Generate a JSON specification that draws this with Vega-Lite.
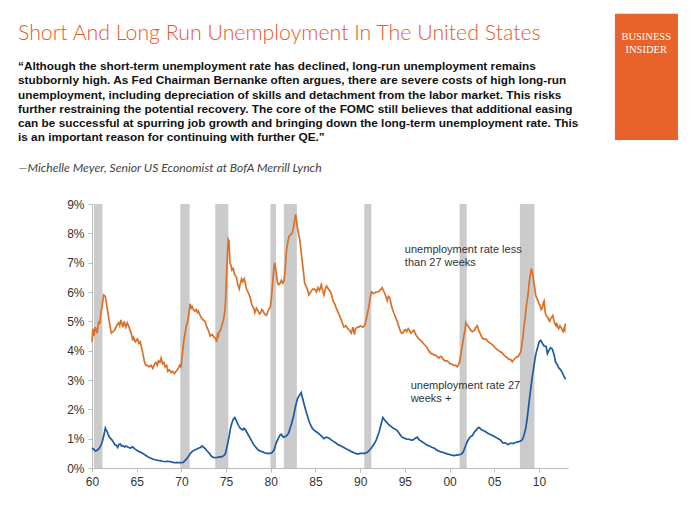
{
  "$schema": "https://vega.github.io/schema/vega-lite/v6.json",
  "width": 476,
  "height": 264,
  "autosize": {"type": "none"},
  "padding": {"left": 92, "top": 204, "right": 132, "bottom": 57},
  "background": "white",
  "config": {
    "view": {"stroke": null},
    "font": "Liberation Sans",
    "axis": {"grid": false, "domainColor": "#bdbdbd", "tickColor": "#bdbdbd", "labelColor": "#333333", "labelFont": "Liberation Sans", "labelFontSize": 12, "tickSize": 4, "labelOverlap": false},
    "axisY": {
      "values": [0, 1, 2, 3, 4, 5, 6, 7, 8, 9],
      "labelExpr": "datum.value + '%'",
      "labelPadding": 4,
      "titleAngle": 0,
      "titleAlign": "left",
      "titleBaseline": "middle",
      "titleX": -74,
      "titleY": -37,
      "titleFont": "Lato",
      "titleFontStyle": "italic",
      "titleFontWeight": "normal",
      "titleFontSize": 12.2,
      "titleColor": "#444444"
    }
  },
  "title": {
    "text": "Short And Long Run Unemployment In The United States",
    "subtitle": [
      "“Although the short-term unemployment rate has declined, long-run unemployment remains",
      "stubbornly high. As Fed Chairman Bernanke often argues, there are severe costs of high long-run",
      "unemployment, including depreciation of skills and detachment from the labor market. This risks",
      "further restraining the potential recovery. The core of the FOMC still believes that additional easing",
      "can be successful at spurring job growth and bringing down the long-term unemployment rate. This",
      "is an important reason for continuing with further QE.”"
    ],
    "anchor": "start",
    "frame": "group",
    "dx": -74,
    "offset": -130,
    "font": "Lato",
    "fontSize": 21.3,
    "fontWeight": 300,
    "color": "#e8582a",
    "subtitleFont": "Liberation Sans",
    "subtitleFontSize": 11.8,
    "subtitleFontWeight": "bold",
    "subtitleColor": "#111111",
    "subtitleLineHeight": 14.1,
    "subtitlePadding": 17
  },
  "datasets": {
    "recessions": [
      {"start": 1960.21, "end": 1961.17},
      {"start": 1969.87, "end": 1970.92},
      {"start": 1973.79, "end": 1975.25},
      {"start": 1979.96, "end": 1980.58},
      {"start": 1981.46, "end": 1982.92},
      {"start": 1990.46, "end": 1991.25},
      {"start": 2001.12, "end": 2001.92},
      {"start": 2007.87, "end": 2009.5}
    ],
    "labels": [
      {"label": "unemployment rate less\nthan 27 weeks", "year": 1995.0, "rate": 7.63},
      {"label": "unemployment rate 27\nweeks +", "year": 1995.65, "rate": 3.0}
    ],
    "series": [
      {"series": "short", "year": 1960.0, "rate": 4.3},
      {"series": "short", "year": 1960.1, "rate": 4.75},
      {"series": "short", "year": 1960.19, "rate": 4.5},
      {"series": "short", "year": 1960.37, "rate": 4.8},
      {"series": "short", "year": 1960.56, "rate": 4.6},
      {"series": "short", "year": 1960.75, "rate": 5.0},
      {"series": "short", "year": 1960.86, "rate": 4.9},
      {"series": "short", "year": 1961.0, "rate": 5.3},
      {"series": "short", "year": 1961.12, "rate": 5.5},
      {"series": "short", "year": 1961.3, "rate": 5.9},
      {"series": "short", "year": 1961.49, "rate": 5.85},
      {"series": "short", "year": 1961.67, "rate": 5.5},
      {"series": "short", "year": 1961.93, "rate": 5.0},
      {"series": "short", "year": 1962.16, "rate": 4.6},
      {"series": "short", "year": 1962.35, "rate": 4.65},
      {"series": "short", "year": 1962.53, "rate": 4.7},
      {"series": "short", "year": 1962.75, "rate": 4.85},
      {"series": "short", "year": 1962.97, "rate": 4.95},
      {"series": "short", "year": 1963.1, "rate": 4.85},
      {"series": "short", "year": 1963.23, "rate": 5.05},
      {"series": "short", "year": 1963.46, "rate": 4.8},
      {"series": "short", "year": 1963.6, "rate": 5.0},
      {"series": "short", "year": 1963.79, "rate": 4.8},
      {"series": "short", "year": 1963.95, "rate": 4.95},
      {"series": "short", "year": 1964.09, "rate": 4.85},
      {"series": "short", "year": 1964.25, "rate": 4.7},
      {"series": "short", "year": 1964.39, "rate": 4.6},
      {"series": "short", "year": 1964.55, "rate": 4.35},
      {"series": "short", "year": 1964.65, "rate": 4.45},
      {"series": "short", "year": 1964.85, "rate": 4.3},
      {"series": "short", "year": 1965.09, "rate": 4.4},
      {"series": "short", "year": 1965.25, "rate": 4.25},
      {"series": "short", "year": 1965.39, "rate": 4.3},
      {"series": "short", "year": 1965.55, "rate": 4.1},
      {"series": "short", "year": 1965.69, "rate": 3.9},
      {"series": "short", "year": 1965.85, "rate": 3.65},
      {"series": "short", "year": 1966.02, "rate": 3.5},
      {"series": "short", "year": 1966.2, "rate": 3.5},
      {"series": "short", "year": 1966.39, "rate": 3.45},
      {"series": "short", "year": 1966.6, "rate": 3.5},
      {"series": "short", "year": 1966.8, "rate": 3.4},
      {"series": "short", "year": 1967.0, "rate": 3.55},
      {"series": "short", "year": 1967.14, "rate": 3.6},
      {"series": "short", "year": 1967.3, "rate": 3.5},
      {"series": "short", "year": 1967.43, "rate": 3.65},
      {"series": "short", "year": 1967.6, "rate": 3.6},
      {"series": "short", "year": 1967.73, "rate": 3.75},
      {"series": "short", "year": 1967.9, "rate": 3.55},
      {"series": "short", "year": 1968.05, "rate": 3.6},
      {"series": "short", "year": 1968.18, "rate": 3.45},
      {"series": "short", "year": 1968.35, "rate": 3.5},
      {"series": "short", "year": 1968.48, "rate": 3.3},
      {"series": "short", "year": 1968.65, "rate": 3.35},
      {"series": "short", "year": 1968.85, "rate": 3.25},
      {"series": "short", "year": 1969.0, "rate": 3.3},
      {"series": "short", "year": 1969.22, "rate": 3.22},
      {"series": "short", "year": 1969.4, "rate": 3.3},
      {"series": "short", "year": 1969.59, "rate": 3.35},
      {"series": "short", "year": 1969.8, "rate": 3.5},
      {"series": "short", "year": 1969.96, "rate": 3.45},
      {"series": "short", "year": 1970.05, "rate": 3.7},
      {"series": "short", "year": 1970.15, "rate": 4.0},
      {"series": "short", "year": 1970.3, "rate": 4.4},
      {"series": "short", "year": 1970.41, "rate": 4.6},
      {"series": "short", "year": 1970.55, "rate": 4.85},
      {"series": "short", "year": 1970.71, "rate": 5.0},
      {"series": "short", "year": 1970.85, "rate": 5.3},
      {"series": "short", "year": 1970.97, "rate": 5.6},
      {"series": "short", "year": 1971.1, "rate": 5.45},
      {"series": "short", "year": 1971.2, "rate": 5.5},
      {"series": "short", "year": 1971.34, "rate": 5.4},
      {"series": "short", "year": 1971.5, "rate": 5.35},
      {"series": "short", "year": 1971.64, "rate": 5.4},
      {"series": "short", "year": 1971.8, "rate": 5.3},
      {"series": "short", "year": 1971.9, "rate": 5.35},
      {"series": "short", "year": 1972.1, "rate": 5.2},
      {"series": "short", "year": 1972.27, "rate": 5.1},
      {"series": "short", "year": 1972.45, "rate": 5.05},
      {"series": "short", "year": 1972.64, "rate": 5.0},
      {"series": "short", "year": 1972.85, "rate": 4.8},
      {"series": "short", "year": 1973.01, "rate": 4.7},
      {"series": "short", "year": 1973.12, "rate": 4.6},
      {"series": "short", "year": 1973.23, "rate": 4.5},
      {"series": "short", "year": 1973.45, "rate": 4.55},
      {"series": "short", "year": 1973.68, "rate": 4.45},
      {"series": "short", "year": 1973.85, "rate": 4.4},
      {"series": "short", "year": 1973.94, "rate": 4.3},
      {"series": "short", "year": 1974.05, "rate": 4.55},
      {"series": "short", "year": 1974.13, "rate": 4.5},
      {"series": "short", "year": 1974.25, "rate": 4.65},
      {"series": "short", "year": 1974.39, "rate": 4.7},
      {"series": "short", "year": 1974.55, "rate": 4.9},
      {"series": "short", "year": 1974.68, "rate": 5.0},
      {"series": "short", "year": 1974.8, "rate": 5.2},
      {"series": "short", "year": 1974.93, "rate": 5.6},
      {"series": "short", "year": 1975.06, "rate": 6.6},
      {"series": "short", "year": 1975.15, "rate": 7.3},
      {"series": "short", "year": 1975.24, "rate": 7.8},
      {"series": "short", "year": 1975.32, "rate": 7.75},
      {"series": "short", "year": 1975.43, "rate": 7.0},
      {"series": "short", "year": 1975.55, "rate": 6.9},
      {"series": "short", "year": 1975.65, "rate": 6.75},
      {"series": "short", "year": 1975.8, "rate": 6.8},
      {"series": "short", "year": 1975.95, "rate": 6.6},
      {"series": "short", "year": 1976.17, "rate": 6.5},
      {"series": "short", "year": 1976.3, "rate": 6.25},
      {"series": "short", "year": 1976.47, "rate": 6.1},
      {"series": "short", "year": 1976.6, "rate": 6.3},
      {"series": "short", "year": 1976.73, "rate": 6.45},
      {"series": "short", "year": 1976.85, "rate": 6.35},
      {"series": "short", "year": 1977.03, "rate": 6.45},
      {"series": "short", "year": 1977.15, "rate": 6.3},
      {"series": "short", "year": 1977.29, "rate": 6.1},
      {"series": "short", "year": 1977.45, "rate": 6.0},
      {"series": "short", "year": 1977.66, "rate": 5.85},
      {"series": "short", "year": 1977.8, "rate": 5.65},
      {"series": "short", "year": 1977.96, "rate": 5.5},
      {"series": "short", "year": 1978.1, "rate": 5.45},
      {"series": "short", "year": 1978.22, "rate": 5.3},
      {"series": "short", "year": 1978.4, "rate": 5.45},
      {"series": "short", "year": 1978.59, "rate": 5.35},
      {"series": "short", "year": 1978.75, "rate": 5.25},
      {"series": "short", "year": 1978.88, "rate": 5.3},
      {"series": "short", "year": 1979.0, "rate": 5.4},
      {"series": "short", "year": 1979.14, "rate": 5.35},
      {"series": "short", "year": 1979.3, "rate": 5.25},
      {"series": "short", "year": 1979.52, "rate": 5.2},
      {"series": "short", "year": 1979.7, "rate": 5.35},
      {"series": "short", "year": 1979.85, "rate": 5.45},
      {"series": "short", "year": 1979.96, "rate": 5.5},
      {"series": "short", "year": 1980.1, "rate": 5.9},
      {"series": "short", "year": 1980.26, "rate": 6.5},
      {"series": "short", "year": 1980.38, "rate": 6.9},
      {"series": "short", "year": 1980.45, "rate": 7.0},
      {"series": "short", "year": 1980.55, "rate": 6.8},
      {"series": "short", "year": 1980.63, "rate": 6.6},
      {"series": "short", "year": 1980.75, "rate": 6.3},
      {"series": "short", "year": 1980.89, "rate": 6.25},
      {"series": "short", "year": 1981.05, "rate": 6.3},
      {"series": "short", "year": 1981.19, "rate": 6.4},
      {"series": "short", "year": 1981.35, "rate": 6.3},
      {"series": "short", "year": 1981.49, "rate": 6.4},
      {"series": "short", "year": 1981.62, "rate": 6.8},
      {"series": "short", "year": 1981.75, "rate": 7.4},
      {"series": "short", "year": 1981.9, "rate": 7.7},
      {"series": "short", "year": 1982.05, "rate": 7.9},
      {"series": "short", "year": 1982.2, "rate": 7.95},
      {"series": "short", "year": 1982.38, "rate": 8.0},
      {"series": "short", "year": 1982.5, "rate": 8.15},
      {"series": "short", "year": 1982.6, "rate": 8.3},
      {"series": "short", "year": 1982.7, "rate": 8.5},
      {"series": "short", "year": 1982.78, "rate": 8.65},
      {"series": "short", "year": 1982.9, "rate": 8.4},
      {"series": "short", "year": 1982.97, "rate": 8.2},
      {"series": "short", "year": 1983.1, "rate": 8.0},
      {"series": "short", "year": 1983.23, "rate": 7.8},
      {"series": "short", "year": 1983.35, "rate": 7.5},
      {"series": "short", "year": 1983.53, "rate": 7.0},
      {"series": "short", "year": 1983.65, "rate": 6.7},
      {"series": "short", "year": 1983.79, "rate": 6.3},
      {"series": "short", "year": 1983.95, "rate": 6.2},
      {"series": "short", "year": 1984.09, "rate": 6.1},
      {"series": "short", "year": 1984.25, "rate": 5.9},
      {"series": "short", "year": 1984.46, "rate": 6.0},
      {"series": "short", "year": 1984.7, "rate": 6.1},
      {"series": "short", "year": 1984.91, "rate": 6.1},
      {"series": "short", "year": 1985.1, "rate": 6.0},
      {"series": "short", "year": 1985.28, "rate": 6.15},
      {"series": "short", "year": 1985.45, "rate": 6.05},
      {"series": "short", "year": 1985.65, "rate": 6.25},
      {"series": "short", "year": 1985.8, "rate": 6.05},
      {"series": "short", "year": 1985.95, "rate": 5.9},
      {"series": "short", "year": 1986.1, "rate": 6.1},
      {"series": "short", "year": 1986.25, "rate": 6.2},
      {"series": "short", "year": 1986.45, "rate": 6.1},
      {"series": "short", "year": 1986.69, "rate": 6.0},
      {"series": "short", "year": 1986.85, "rate": 5.85},
      {"series": "short", "year": 1986.95, "rate": 5.7},
      {"series": "short", "year": 1987.15, "rate": 5.6},
      {"series": "short", "year": 1987.32, "rate": 5.45},
      {"series": "short", "year": 1987.55, "rate": 5.3},
      {"series": "short", "year": 1987.81, "rate": 5.1},
      {"series": "short", "year": 1988.0, "rate": 4.95},
      {"series": "short", "year": 1988.18, "rate": 4.8},
      {"series": "short", "year": 1988.4, "rate": 4.85},
      {"series": "short", "year": 1988.62, "rate": 4.75},
      {"series": "short", "year": 1988.8, "rate": 4.7},
      {"series": "short", "year": 1989.0, "rate": 4.6},
      {"series": "short", "year": 1989.2, "rate": 4.8},
      {"series": "short", "year": 1989.35, "rate": 4.55},
      {"series": "short", "year": 1989.48, "rate": 4.75},
      {"series": "short", "year": 1989.7, "rate": 4.8},
      {"series": "short", "year": 1989.85, "rate": 4.8},
      {"series": "short", "year": 1990.0, "rate": 4.85},
      {"series": "short", "year": 1990.3, "rate": 4.8},
      {"series": "short", "year": 1990.49, "rate": 4.85},
      {"series": "short", "year": 1990.7, "rate": 5.1},
      {"series": "short", "year": 1990.97, "rate": 5.5},
      {"series": "short", "year": 1991.15, "rate": 5.85},
      {"series": "short", "year": 1991.27, "rate": 6.0},
      {"series": "short", "year": 1991.5, "rate": 5.95},
      {"series": "short", "year": 1991.79, "rate": 6.0},
      {"series": "short", "year": 1992.0, "rate": 6.0},
      {"series": "short", "year": 1992.2, "rate": 6.05},
      {"series": "short", "year": 1992.46, "rate": 6.15},
      {"series": "short", "year": 1992.6, "rate": 6.05},
      {"series": "short", "year": 1992.76, "rate": 5.95},
      {"series": "short", "year": 1993.02, "rate": 5.7},
      {"series": "short", "year": 1993.15, "rate": 5.85},
      {"series": "short", "year": 1993.32, "rate": 5.8},
      {"series": "short", "year": 1993.45, "rate": 5.6},
      {"series": "short", "year": 1993.58, "rate": 5.45},
      {"series": "short", "year": 1993.75, "rate": 5.3},
      {"series": "short", "year": 1993.88, "rate": 5.2},
      {"series": "short", "year": 1994.14, "rate": 5.0},
      {"series": "short", "year": 1994.3, "rate": 4.85},
      {"series": "short", "year": 1994.51, "rate": 4.65},
      {"series": "short", "year": 1994.65, "rate": 4.6},
      {"series": "short", "year": 1994.78, "rate": 4.6},
      {"series": "short", "year": 1994.95, "rate": 4.7},
      {"series": "short", "year": 1995.07, "rate": 4.72},
      {"series": "short", "year": 1995.2, "rate": 4.65},
      {"series": "short", "year": 1995.37, "rate": 4.75},
      {"series": "short", "year": 1995.5, "rate": 4.7},
      {"series": "short", "year": 1995.67, "rate": 4.6},
      {"series": "short", "year": 1995.85, "rate": 4.65},
      {"series": "short", "year": 1996.01, "rate": 4.7},
      {"series": "short", "year": 1996.15, "rate": 4.6},
      {"series": "short", "year": 1996.31, "rate": 4.5},
      {"series": "short", "year": 1996.45, "rate": 4.45},
      {"series": "short", "year": 1996.57, "rate": 4.4},
      {"series": "short", "year": 1996.75, "rate": 4.35},
      {"series": "short", "year": 1996.94, "rate": 4.3},
      {"series": "short", "year": 1997.05, "rate": 4.25},
      {"series": "short", "year": 1997.2, "rate": 4.2},
      {"series": "short", "year": 1997.35, "rate": 4.15},
      {"series": "short", "year": 1997.5, "rate": 4.1},
      {"series": "short", "year": 1997.65, "rate": 4.0},
      {"series": "short", "year": 1997.8, "rate": 3.95},
      {"series": "short", "year": 1997.95, "rate": 3.9},
      {"series": "short", "year": 1998.06, "rate": 3.9},
      {"series": "short", "year": 1998.25, "rate": 3.85},
      {"series": "short", "year": 1998.43, "rate": 3.85},
      {"series": "short", "year": 1998.6, "rate": 3.8},
      {"series": "short", "year": 1998.81, "rate": 3.75},
      {"series": "short", "year": 1998.95, "rate": 3.8},
      {"series": "short", "year": 1999.1, "rate": 3.8},
      {"series": "short", "year": 1999.3, "rate": 3.7},
      {"series": "short", "year": 1999.48, "rate": 3.65},
      {"series": "short", "year": 1999.7, "rate": 3.65},
      {"series": "short", "year": 1999.93, "rate": 3.6},
      {"series": "short", "year": 2000.05, "rate": 3.55},
      {"series": "short", "year": 2000.22, "rate": 3.55},
      {"series": "short", "year": 2000.45, "rate": 3.5},
      {"series": "short", "year": 2000.67, "rate": 3.5},
      {"series": "short", "year": 2000.85, "rate": 3.45},
      {"series": "short", "year": 2000.97, "rate": 3.5},
      {"series": "short", "year": 2001.1, "rate": 3.6},
      {"series": "short", "year": 2001.23, "rate": 3.8},
      {"series": "short", "year": 2001.35, "rate": 4.05},
      {"series": "short", "year": 2001.49, "rate": 4.3},
      {"series": "short", "year": 2001.6, "rate": 4.5},
      {"series": "short", "year": 2001.72, "rate": 4.7},
      {"series": "short", "year": 2001.83, "rate": 4.95},
      {"series": "short", "year": 2001.9, "rate": 4.9},
      {"series": "short", "year": 2002.05, "rate": 4.85},
      {"series": "short", "year": 2002.16, "rate": 4.8},
      {"series": "short", "year": 2002.35, "rate": 4.7},
      {"series": "short", "year": 2002.54, "rate": 4.65},
      {"series": "short", "year": 2002.8, "rate": 4.7},
      {"series": "short", "year": 2002.95, "rate": 4.8},
      {"series": "short", "year": 2003.1, "rate": 4.85},
      {"series": "short", "year": 2003.25, "rate": 4.7},
      {"series": "short", "year": 2003.4, "rate": 4.6},
      {"series": "short", "year": 2003.55, "rate": 4.5},
      {"series": "short", "year": 2003.73, "rate": 4.4},
      {"series": "short", "year": 2003.9, "rate": 4.4},
      {"series": "short", "year": 2004.03, "rate": 4.4},
      {"series": "short", "year": 2004.2, "rate": 4.35},
      {"series": "short", "year": 2004.33, "rate": 4.3},
      {"series": "short", "year": 2004.59, "rate": 4.25},
      {"series": "short", "year": 2004.8, "rate": 4.2},
      {"series": "short", "year": 2004.96, "rate": 4.15},
      {"series": "short", "year": 2005.1, "rate": 4.1},
      {"series": "short", "year": 2005.26, "rate": 4.05},
      {"series": "short", "year": 2005.52, "rate": 4.0},
      {"series": "short", "year": 2005.7, "rate": 3.95},
      {"series": "short", "year": 2005.82, "rate": 3.95},
      {"series": "short", "year": 2006.08, "rate": 3.85},
      {"series": "short", "year": 2006.3, "rate": 3.8},
      {"series": "short", "year": 2006.46, "rate": 3.75},
      {"series": "short", "year": 2006.65, "rate": 3.7},
      {"series": "short", "year": 2006.83, "rate": 3.7},
      {"series": "short", "year": 2007.01, "rate": 3.62},
      {"series": "short", "year": 2007.2, "rate": 3.7},
      {"series": "short", "year": 2007.39, "rate": 3.75},
      {"series": "short", "year": 2007.55, "rate": 3.8},
      {"series": "short", "year": 2007.69, "rate": 3.8},
      {"series": "short", "year": 2007.85, "rate": 3.9},
      {"series": "short", "year": 2007.95, "rate": 3.95},
      {"series": "short", "year": 2008.05, "rate": 4.1},
      {"series": "short", "year": 2008.13, "rate": 4.3},
      {"series": "short", "year": 2008.22, "rate": 4.5},
      {"series": "short", "year": 2008.32, "rate": 4.8},
      {"series": "short", "year": 2008.45, "rate": 5.1},
      {"series": "short", "year": 2008.58, "rate": 5.5},
      {"series": "short", "year": 2008.7, "rate": 5.75},
      {"series": "short", "year": 2008.81, "rate": 6.0},
      {"series": "short", "year": 2008.9, "rate": 6.3},
      {"series": "short", "year": 2008.99, "rate": 6.5},
      {"series": "short", "year": 2009.1, "rate": 6.7},
      {"series": "short", "year": 2009.18, "rate": 6.8},
      {"series": "short", "year": 2009.3, "rate": 6.6},
      {"series": "short", "year": 2009.44, "rate": 6.3},
      {"series": "short", "year": 2009.55, "rate": 6.1},
      {"series": "short", "year": 2009.63, "rate": 5.9},
      {"series": "short", "year": 2009.75, "rate": 5.8},
      {"series": "short", "year": 2009.89, "rate": 5.7},
      {"series": "short", "year": 2010.0, "rate": 5.6},
      {"series": "short", "year": 2010.11, "rate": 5.55},
      {"series": "short", "year": 2010.25, "rate": 5.4},
      {"series": "short", "year": 2010.37, "rate": 5.45},
      {"series": "short", "year": 2010.5, "rate": 5.65},
      {"series": "short", "year": 2010.58, "rate": 5.7},
      {"series": "short", "year": 2010.7, "rate": 5.3},
      {"series": "short", "year": 2010.82, "rate": 5.2},
      {"series": "short", "year": 2010.95, "rate": 5.15},
      {"series": "short", "year": 2011.1, "rate": 5.05},
      {"series": "short", "year": 2011.2, "rate": 5.0},
      {"series": "short", "year": 2011.31, "rate": 5.1},
      {"series": "short", "year": 2011.45, "rate": 5.15},
      {"series": "short", "year": 2011.55, "rate": 5.2},
      {"series": "short", "year": 2011.7, "rate": 5.0},
      {"series": "short", "year": 2011.8, "rate": 4.9},
      {"series": "short", "year": 2011.9, "rate": 4.85},
      {"series": "short", "year": 2012.0, "rate": 4.95},
      {"series": "short", "year": 2012.1, "rate": 4.8},
      {"series": "short", "year": 2012.2, "rate": 4.75},
      {"series": "short", "year": 2012.35, "rate": 4.85},
      {"series": "short", "year": 2012.45, "rate": 4.8},
      {"series": "short", "year": 2012.6, "rate": 4.7},
      {"series": "short", "year": 2012.7, "rate": 4.65},
      {"series": "short", "year": 2012.8, "rate": 4.75},
      {"series": "short", "year": 2012.88, "rate": 4.7},
      {"series": "short", "year": 2012.95, "rate": 4.92},
      {"series": "long", "year": 1960.0, "rate": 0.68},
      {"series": "long", "year": 1960.15, "rate": 0.65},
      {"series": "long", "year": 1960.37, "rate": 0.58},
      {"series": "long", "year": 1960.55, "rate": 0.6},
      {"series": "long", "year": 1960.75, "rate": 0.65},
      {"series": "long", "year": 1960.9, "rate": 0.72},
      {"series": "long", "year": 1961.04, "rate": 0.8},
      {"series": "long", "year": 1961.2, "rate": 0.95},
      {"series": "long", "year": 1961.31, "rate": 1.1},
      {"series": "long", "year": 1961.42, "rate": 1.25},
      {"series": "long", "year": 1961.49, "rate": 1.36},
      {"series": "long", "year": 1961.58, "rate": 1.3},
      {"series": "long", "year": 1961.68, "rate": 1.25},
      {"series": "long", "year": 1961.8, "rate": 1.15},
      {"series": "long", "year": 1961.94, "rate": 1.05},
      {"series": "long", "year": 1962.1, "rate": 1.0},
      {"series": "long", "year": 1962.24, "rate": 0.95},
      {"series": "long", "year": 1962.4, "rate": 0.88},
      {"series": "long", "year": 1962.54, "rate": 0.8},
      {"series": "long", "year": 1962.7, "rate": 0.78},
      {"series": "long", "year": 1962.87, "rate": 0.7},
      {"series": "long", "year": 1963.0, "rate": 0.8},
      {"series": "long", "year": 1963.17, "rate": 0.82},
      {"series": "long", "year": 1963.3, "rate": 0.75},
      {"series": "long", "year": 1963.47, "rate": 0.76},
      {"series": "long", "year": 1963.65, "rate": 0.72},
      {"series": "long", "year": 1963.81, "rate": 0.75},
      {"series": "long", "year": 1963.95, "rate": 0.72},
      {"series": "long", "year": 1964.1, "rate": 0.7},
      {"series": "long", "year": 1964.3, "rate": 0.68},
      {"series": "long", "year": 1964.55, "rate": 0.72},
      {"series": "long", "year": 1964.75, "rate": 0.66},
      {"series": "long", "year": 1964.93, "rate": 0.62},
      {"series": "long", "year": 1965.15, "rate": 0.58},
      {"series": "long", "year": 1965.34, "rate": 0.55},
      {"series": "long", "year": 1965.55, "rate": 0.52},
      {"series": "long", "year": 1965.78, "rate": 0.48},
      {"series": "long", "year": 1965.95, "rate": 0.44},
      {"series": "long", "year": 1966.16, "rate": 0.4},
      {"series": "long", "year": 1966.4, "rate": 0.36},
      {"series": "long", "year": 1966.6, "rate": 0.33},
      {"series": "long", "year": 1966.85, "rate": 0.3},
      {"series": "long", "year": 1967.09, "rate": 0.28},
      {"series": "long", "year": 1967.35, "rate": 0.26},
      {"series": "long", "year": 1967.65, "rate": 0.25},
      {"series": "long", "year": 1967.9, "rate": 0.23},
      {"series": "long", "year": 1968.21, "rate": 0.22},
      {"series": "long", "year": 1968.45, "rate": 0.23},
      {"series": "long", "year": 1968.69, "rate": 0.22},
      {"series": "long", "year": 1968.95, "rate": 0.2},
      {"series": "long", "year": 1969.22, "rate": 0.18},
      {"series": "long", "year": 1969.45, "rate": 0.19},
      {"series": "long", "year": 1969.7, "rate": 0.18},
      {"series": "long", "year": 1969.95, "rate": 0.18},
      {"series": "long", "year": 1970.19, "rate": 0.19},
      {"series": "long", "year": 1970.4, "rate": 0.25},
      {"series": "long", "year": 1970.56, "rate": 0.3},
      {"series": "long", "year": 1970.8, "rate": 0.4},
      {"series": "long", "year": 1971.01, "rate": 0.5},
      {"series": "long", "year": 1971.2, "rate": 0.56},
      {"series": "long", "year": 1971.38, "rate": 0.6},
      {"series": "long", "year": 1971.55, "rate": 0.62},
      {"series": "long", "year": 1971.75, "rate": 0.65},
      {"series": "long", "year": 1971.95, "rate": 0.68},
      {"series": "long", "year": 1972.13, "rate": 0.7},
      {"series": "long", "year": 1972.31, "rate": 0.75},
      {"series": "long", "year": 1972.5, "rate": 0.7},
      {"series": "long", "year": 1972.69, "rate": 0.65},
      {"series": "long", "year": 1972.9, "rate": 0.57},
      {"series": "long", "year": 1973.13, "rate": 0.5},
      {"series": "long", "year": 1973.3, "rate": 0.42},
      {"series": "long", "year": 1973.43, "rate": 0.38},
      {"series": "long", "year": 1973.6, "rate": 0.36},
      {"series": "long", "year": 1973.81, "rate": 0.35},
      {"series": "long", "year": 1974.0, "rate": 0.36},
      {"series": "long", "year": 1974.25, "rate": 0.38},
      {"series": "long", "year": 1974.45, "rate": 0.38},
      {"series": "long", "year": 1974.63, "rate": 0.4},
      {"series": "long", "year": 1974.8, "rate": 0.44},
      {"series": "long", "year": 1974.93, "rate": 0.5},
      {"series": "long", "year": 1975.08, "rate": 0.7},
      {"series": "long", "year": 1975.22, "rate": 0.9},
      {"series": "long", "year": 1975.35, "rate": 1.1},
      {"series": "long", "year": 1975.49, "rate": 1.35},
      {"series": "long", "year": 1975.62, "rate": 1.5},
      {"series": "long", "year": 1975.78, "rate": 1.65},
      {"series": "long", "year": 1975.97, "rate": 1.72},
      {"series": "long", "year": 1976.1, "rate": 1.65},
      {"series": "long", "year": 1976.31, "rate": 1.5},
      {"series": "long", "year": 1976.45, "rate": 1.42},
      {"series": "long", "year": 1976.6, "rate": 1.35},
      {"series": "long", "year": 1976.75, "rate": 1.32},
      {"series": "long", "year": 1976.87, "rate": 1.3},
      {"series": "long", "year": 1977.0, "rate": 1.35},
      {"series": "long", "year": 1977.16, "rate": 1.3},
      {"series": "long", "year": 1977.35, "rate": 1.2},
      {"series": "long", "year": 1977.54, "rate": 1.1},
      {"series": "long", "year": 1977.72, "rate": 1.0},
      {"series": "long", "year": 1977.91, "rate": 0.9},
      {"series": "long", "year": 1978.05, "rate": 0.82},
      {"series": "long", "year": 1978.21, "rate": 0.75},
      {"series": "long", "year": 1978.45, "rate": 0.66},
      {"series": "long", "year": 1978.66, "rate": 0.6},
      {"series": "long", "year": 1978.9, "rate": 0.57},
      {"series": "long", "year": 1979.1, "rate": 0.55},
      {"series": "long", "year": 1979.3, "rate": 0.52},
      {"series": "long", "year": 1979.51, "rate": 0.5},
      {"series": "long", "year": 1979.75, "rate": 0.5},
      {"series": "long", "year": 1979.96, "rate": 0.5},
      {"series": "long", "year": 1980.15, "rate": 0.53},
      {"series": "long", "year": 1980.34, "rate": 0.6},
      {"series": "long", "year": 1980.48, "rate": 0.72},
      {"series": "long", "year": 1980.6, "rate": 0.85},
      {"series": "long", "year": 1980.75, "rate": 0.95},
      {"series": "long", "year": 1980.9, "rate": 1.05},
      {"series": "long", "year": 1981.05, "rate": 1.12},
      {"series": "long", "year": 1981.19, "rate": 1.15},
      {"series": "long", "year": 1981.32, "rate": 1.08},
      {"series": "long", "year": 1981.46, "rate": 1.05},
      {"series": "long", "year": 1981.6, "rate": 1.07},
      {"series": "long", "year": 1981.75, "rate": 1.1},
      {"series": "long", "year": 1981.9, "rate": 1.15},
      {"series": "long", "year": 1982.01, "rate": 1.2},
      {"series": "long", "year": 1982.15, "rate": 1.35},
      {"series": "long", "year": 1982.31, "rate": 1.5},
      {"series": "long", "year": 1982.45, "rate": 1.65},
      {"series": "long", "year": 1982.57, "rate": 1.8},
      {"series": "long", "year": 1982.7, "rate": 2.0},
      {"series": "long", "year": 1982.84, "rate": 2.2},
      {"series": "long", "year": 1982.98, "rate": 2.35},
      {"series": "long", "year": 1983.13, "rate": 2.45},
      {"series": "long", "year": 1983.27, "rate": 2.5},
      {"series": "long", "year": 1983.4, "rate": 2.57},
      {"series": "long", "year": 1983.5, "rate": 2.45},
      {"series": "long", "year": 1983.62, "rate": 2.3},
      {"series": "long", "year": 1983.75, "rate": 2.15},
      {"series": "long", "year": 1983.88, "rate": 2.0},
      {"series": "long", "year": 1984.03, "rate": 1.85},
      {"series": "long", "year": 1984.18, "rate": 1.7},
      {"series": "long", "year": 1984.33, "rate": 1.55},
      {"series": "long", "year": 1984.48, "rate": 1.45},
      {"series": "long", "year": 1984.65, "rate": 1.35},
      {"series": "long", "year": 1984.81, "rate": 1.3},
      {"series": "long", "year": 1985.0, "rate": 1.25},
      {"series": "long", "year": 1985.26, "rate": 1.2},
      {"series": "long", "year": 1985.45, "rate": 1.15},
      {"series": "long", "year": 1985.63, "rate": 1.1},
      {"series": "long", "year": 1985.8, "rate": 1.05},
      {"series": "long", "year": 1985.93, "rate": 1.0},
      {"series": "long", "year": 1986.08, "rate": 1.03},
      {"series": "long", "year": 1986.23, "rate": 1.05},
      {"series": "long", "year": 1986.4, "rate": 1.03},
      {"series": "long", "year": 1986.6, "rate": 1.0},
      {"series": "long", "year": 1986.8, "rate": 0.95},
      {"series": "long", "year": 1987.05, "rate": 0.9},
      {"series": "long", "year": 1987.25, "rate": 0.86},
      {"series": "long", "year": 1987.43, "rate": 0.82},
      {"series": "long", "year": 1987.65, "rate": 0.78},
      {"series": "long", "year": 1987.87, "rate": 0.75},
      {"series": "long", "year": 1988.05, "rate": 0.72},
      {"series": "long", "year": 1988.28, "rate": 0.68},
      {"series": "long", "year": 1988.45, "rate": 0.65},
      {"series": "long", "year": 1988.66, "rate": 0.62},
      {"series": "long", "year": 1988.9, "rate": 0.58},
      {"series": "long", "year": 1989.1, "rate": 0.55},
      {"series": "long", "year": 1989.3, "rate": 0.52},
      {"series": "long", "year": 1989.48, "rate": 0.5},
      {"series": "long", "year": 1989.65, "rate": 0.48},
      {"series": "long", "year": 1989.85, "rate": 0.48},
      {"series": "long", "year": 1990.0, "rate": 0.5},
      {"series": "long", "year": 1990.25, "rate": 0.5},
      {"series": "long", "year": 1990.52, "rate": 0.5},
      {"series": "long", "year": 1990.75, "rate": 0.53},
      {"series": "long", "year": 1990.97, "rate": 0.58},
      {"series": "long", "year": 1991.25, "rate": 0.68},
      {"series": "long", "year": 1991.53, "rate": 0.8},
      {"series": "long", "year": 1991.79, "rate": 0.95},
      {"series": "long", "year": 1991.95, "rate": 1.08},
      {"series": "long", "year": 1992.09, "rate": 1.2},
      {"series": "long", "year": 1992.25, "rate": 1.38},
      {"series": "long", "year": 1992.39, "rate": 1.55},
      {"series": "long", "year": 1992.54, "rate": 1.72},
      {"series": "long", "year": 1992.7, "rate": 1.65},
      {"series": "long", "year": 1992.84, "rate": 1.6},
      {"series": "long", "year": 1993.0, "rate": 1.55},
      {"series": "long", "year": 1993.13, "rate": 1.5},
      {"series": "long", "year": 1993.3, "rate": 1.45},
      {"series": "long", "year": 1993.47, "rate": 1.42},
      {"series": "long", "year": 1993.6, "rate": 1.38},
      {"series": "long", "year": 1993.77, "rate": 1.35},
      {"series": "long", "year": 1994.07, "rate": 1.3},
      {"series": "long", "year": 1994.2, "rate": 1.25},
      {"series": "long", "year": 1994.33, "rate": 1.2},
      {"series": "long", "year": 1994.5, "rate": 1.12},
      {"series": "long", "year": 1994.7, "rate": 1.05},
      {"series": "long", "year": 1994.9, "rate": 1.02},
      {"series": "long", "year": 1995.07, "rate": 1.0},
      {"series": "long", "year": 1995.25, "rate": 0.98},
      {"series": "long", "year": 1995.45, "rate": 0.98},
      {"series": "long", "year": 1995.65, "rate": 0.96},
      {"series": "long", "year": 1995.82, "rate": 0.95},
      {"series": "long", "year": 1996.0, "rate": 0.97},
      {"series": "long", "year": 1996.12, "rate": 1.0},
      {"series": "long", "year": 1996.25, "rate": 1.03},
      {"series": "long", "year": 1996.38, "rate": 1.05},
      {"series": "long", "year": 1996.5, "rate": 1.0},
      {"series": "long", "year": 1996.64, "rate": 0.95},
      {"series": "long", "year": 1996.8, "rate": 0.92},
      {"series": "long", "year": 1997.01, "rate": 0.88},
      {"series": "long", "year": 1997.2, "rate": 0.84},
      {"series": "long", "year": 1997.39, "rate": 0.8},
      {"series": "long", "year": 1997.56, "rate": 0.77},
      {"series": "long", "year": 1997.76, "rate": 0.75},
      {"series": "long", "year": 1998.0, "rate": 0.71},
      {"series": "long", "year": 1998.25, "rate": 0.68},
      {"series": "long", "year": 1998.45, "rate": 0.64},
      {"series": "long", "year": 1998.62, "rate": 0.6},
      {"series": "long", "year": 1998.8, "rate": 0.58},
      {"series": "long", "year": 1998.99, "rate": 0.55},
      {"series": "long", "year": 1999.2, "rate": 0.54},
      {"series": "long", "year": 1999.37, "rate": 0.52},
      {"series": "long", "year": 1999.55, "rate": 0.5},
      {"series": "long", "year": 1999.74, "rate": 0.48},
      {"series": "long", "year": 1999.9, "rate": 0.47},
      {"series": "long", "year": 2000.11, "rate": 0.45},
      {"series": "long", "year": 2000.3, "rate": 0.44},
      {"series": "long", "year": 2000.49, "rate": 0.42},
      {"series": "long", "year": 2000.65, "rate": 0.43},
      {"series": "long", "year": 2000.78, "rate": 0.45},
      {"series": "long", "year": 2000.9, "rate": 0.43},
      {"series": "long", "year": 2001.04, "rate": 0.45},
      {"series": "long", "year": 2001.25, "rate": 0.47},
      {"series": "long", "year": 2001.42, "rate": 0.5},
      {"series": "long", "year": 2001.58, "rate": 0.58},
      {"series": "long", "year": 2001.72, "rate": 0.7},
      {"series": "long", "year": 2001.85, "rate": 0.8},
      {"series": "long", "year": 2001.98, "rate": 0.9},
      {"series": "long", "year": 2002.13, "rate": 0.98},
      {"series": "long", "year": 2002.28, "rate": 1.05},
      {"series": "long", "year": 2002.4, "rate": 1.08},
      {"series": "long", "year": 2002.54, "rate": 1.1},
      {"series": "long", "year": 2002.7, "rate": 1.18},
      {"series": "long", "year": 2002.84, "rate": 1.25},
      {"series": "long", "year": 2003.0, "rate": 1.3},
      {"series": "long", "year": 2003.13, "rate": 1.35},
      {"series": "long", "year": 2003.25, "rate": 1.38},
      {"series": "long", "year": 2003.36, "rate": 1.37},
      {"series": "long", "year": 2003.47, "rate": 1.33},
      {"series": "long", "year": 2003.58, "rate": 1.3},
      {"series": "long", "year": 2003.75, "rate": 1.28},
      {"series": "long", "year": 2003.96, "rate": 1.25},
      {"series": "long", "year": 2004.1, "rate": 1.22},
      {"series": "long", "year": 2004.22, "rate": 1.2},
      {"series": "long", "year": 2004.35, "rate": 1.17},
      {"series": "long", "year": 2004.51, "rate": 1.15},
      {"series": "long", "year": 2004.7, "rate": 1.12},
      {"series": "long", "year": 2004.85, "rate": 1.1},
      {"series": "long", "year": 2005.0, "rate": 1.08},
      {"series": "long", "year": 2005.15, "rate": 1.05},
      {"series": "long", "year": 2005.3, "rate": 1.02},
      {"series": "long", "year": 2005.45, "rate": 1.0},
      {"series": "long", "year": 2005.6, "rate": 0.97},
      {"series": "long", "year": 2005.71, "rate": 0.95},
      {"series": "long", "year": 2005.85, "rate": 0.9},
      {"series": "long", "year": 2005.97, "rate": 0.85},
      {"series": "long", "year": 2006.12, "rate": 0.86},
      {"series": "long", "year": 2006.27, "rate": 0.85},
      {"series": "long", "year": 2006.42, "rate": 0.82},
      {"series": "long", "year": 2006.57, "rate": 0.8},
      {"series": "long", "year": 2006.72, "rate": 0.83},
      {"series": "long", "year": 2006.87, "rate": 0.85},
      {"series": "long", "year": 2007.05, "rate": 0.83},
      {"series": "long", "year": 2007.2, "rate": 0.85},
      {"series": "long", "year": 2007.33, "rate": 0.86},
      {"series": "long", "year": 2007.46, "rate": 0.88},
      {"series": "long", "year": 2007.6, "rate": 0.88},
      {"series": "long", "year": 2007.76, "rate": 0.9},
      {"series": "long", "year": 2007.95, "rate": 0.92},
      {"series": "long", "year": 2008.13, "rate": 0.96},
      {"series": "long", "year": 2008.25, "rate": 1.05},
      {"series": "long", "year": 2008.38, "rate": 1.18},
      {"series": "long", "year": 2008.5, "rate": 1.32},
      {"series": "long", "year": 2008.62, "rate": 1.55},
      {"series": "long", "year": 2008.75, "rate": 1.85},
      {"series": "long", "year": 2008.88, "rate": 2.2},
      {"series": "long", "year": 2009.0, "rate": 2.5},
      {"series": "long", "year": 2009.12, "rate": 2.8},
      {"series": "long", "year": 2009.25, "rate": 3.1},
      {"series": "long", "year": 2009.38, "rate": 3.35},
      {"series": "long", "year": 2009.5, "rate": 3.6},
      {"series": "long", "year": 2009.63, "rate": 3.85},
      {"series": "long", "year": 2009.75, "rate": 4.0},
      {"series": "long", "year": 2009.89, "rate": 4.15},
      {"series": "long", "year": 2010.0, "rate": 4.28},
      {"series": "long", "year": 2010.12, "rate": 4.34},
      {"series": "long", "year": 2010.2, "rate": 4.35},
      {"series": "long", "year": 2010.3, "rate": 4.3},
      {"series": "long", "year": 2010.45, "rate": 4.22},
      {"series": "long", "year": 2010.6, "rate": 4.15},
      {"series": "long", "year": 2010.8, "rate": 4.15},
      {"series": "long", "year": 2010.95, "rate": 3.9},
      {"series": "long", "year": 2011.1, "rate": 4.0},
      {"series": "long", "year": 2011.3, "rate": 4.1},
      {"series": "long", "year": 2011.5, "rate": 4.05},
      {"series": "long", "year": 2011.7, "rate": 3.85},
      {"series": "long", "year": 2011.87, "rate": 3.6},
      {"series": "long", "year": 2012.0, "rate": 3.55},
      {"series": "long", "year": 2012.24, "rate": 3.4},
      {"series": "long", "year": 2012.43, "rate": 3.35},
      {"series": "long", "year": 2012.61, "rate": 3.25},
      {"series": "long", "year": 2012.8, "rate": 3.12},
      {"series": "long", "year": 2012.99, "rate": 3.02}
    ]
  },
  "layer": [
    {
      "data": {"name": "recessions"},
      "mark": {"type": "rect", "color": "#cbcbcb"},
      "encoding": {
        "x": {
          "field": "start", "type": "quantitative",
          "scale": {"domain": [1960, 2013.25], "nice": false, "zero": false},
          "axis": {
            "title": null,
            "values": [1960, 1965, 1970, 1975, 1980, 1985, 1990, 1995, 2000, 2005, 2010],
            "labelExpr": "(datum.value % 100) < 10 ? '0' + (datum.value % 100) : '' + (datum.value % 100)",
            "labelPadding": 4,
            "labelFlush": false,
            "labelOverlap": false
          }
        },
        "x2": {"field": "end"}
      }
    },
    {
      "data": {"name": "series"},
      "mark": {"type": "line", "strokeWidth": 1.7},
      "encoding": {
        "x": {"field": "year", "type": "quantitative", "scale": {"domain": [1960, 2013.25], "nice": false, "zero": false}},
        "y": {
          "field": "rate", "type": "quantitative",
          "scale": {"domain": [0, 9], "nice": false},
          "axis": {"title": "—Michelle Meyer, Senior US Economist at BofA Merrill Lynch"}
        },
        "color": {
          "field": "series", "type": "nominal",
          "scale": {"domain": ["short", "long"], "range": ["#d9712b", "#1c5aa5"]},
          "legend": null
        }
      }
    },
    {
      "data": {"name": "labels"},
      "mark": {"type": "text", "align": "left", "baseline": "top", "lineBreak": "\n", "lineHeight": 13, "fontSize": 11, "font": "Liberation Sans", "color": "#333333"},
      "encoding": {
        "x": {"field": "year", "type": "quantitative"},
        "y": {"field": "rate", "type": "quantitative"},
        "text": {"field": "label"}
      }
    },
    {
      "data": {"values": [{"logo": "Business Insider"}]},
      "mark": {"type": "rect", "color": "#e8622a"},
      "encoding": {
        "x": {"datum": 2018.5, "type": "quantitative"},
        "x2": {"datum": 2025.55},
        "y": {"datum": 15.49, "type": "quantitative"},
        "y2": {"datum": 11.18}
      }
    },
    {
      "data": {"values": [{"logo": "BUSINESS\nINSIDER"}]},
      "mark": {"type": "text", "align": "center", "baseline": "top", "lineBreak": "\n", "lineHeight": 13, "fontSize": 10.5, "font": "Liberation Serif", "color": "white"},
      "encoding": {
        "x": {"datum": 2022.0, "type": "quantitative"},
        "y": {"datum": 14.87, "type": "quantitative"},
        "text": {"field": "logo"}
      }
    }
  ]
}
